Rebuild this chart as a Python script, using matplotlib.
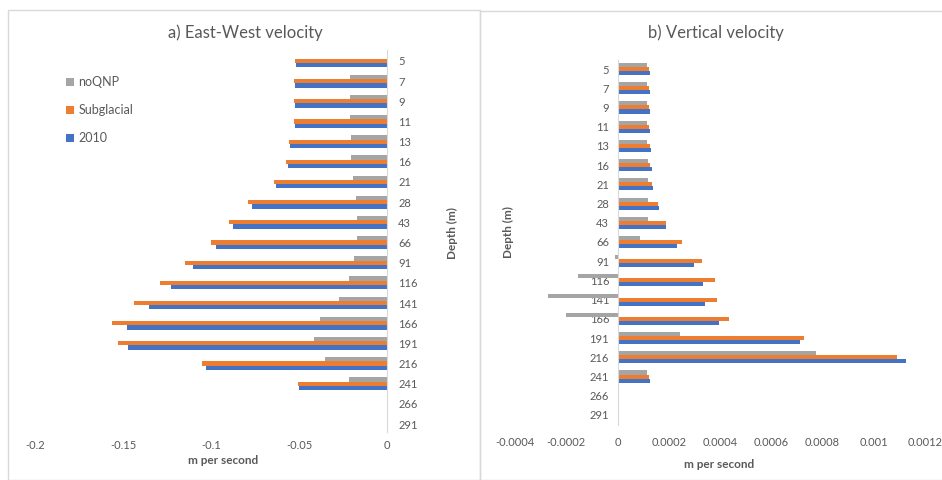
import numpy as np
import matplotlib.pyplot as plt
from matplotlib.patches import Rectangle

plt.rcParams['font.family'] = ['Lato', 'DejaVu Sans']

# depth categories (m)
depths = ['5', '7', '9', '11', '13', '16', '21', '28', '43', '66', '91',
          '116', '141', '166', '191', '216', '241', '266', '291']

# a) East-West velocity (m per second)
ew_noqnp = [0, -0.021, -0.021, -0.021, -0.0206, -0.0206, -0.0195, -0.0177, -0.0168,
            -0.0172, -0.0187, -0.0216, -0.0271, -0.0378, -0.0414, -0.0353, -0.0216, 0, 0]
ew_subglacial = [-0.0523, -0.053, -0.053, -0.053, -0.0557, -0.0573, -0.0643, -0.0792, -0.0897,
                 -0.1, -0.115, -0.129, -0.1435, -0.1565, -0.153, -0.105, -0.0504, 0, 0]
ew_2010 = [-0.0517, -0.0523, -0.0523, -0.0523, -0.055, -0.0565, -0.0632, -0.0769, -0.0874,
           -0.097, -0.11, -0.1227, -0.135, -0.148, -0.1473, -0.103, -0.0498, 0, 0]

# b) Vertical velocity (m per second)
vv_noqnp = [0.000117, 0.000117, 0.000117, 0.000117, 0.000117, 0.000119, 0.000119, 0.00012,
            0.000119, 0.000088, -0.000008, -0.000154, -0.000272, -0.000201, 0.000243,
            0.000776, 0.000117, 0, 0]
vv_subglacial = [0.000121, 0.000121, 0.000121, 0.000121, 0.000125, 0.000127, 0.000133, 0.000158,
                 0.00019, 0.00025, 0.000329, 0.000379, 0.000388, 0.000437, 0.000727,
                 0.001089, 0.000121, 0, 0]
vv_2010 = [0.000127, 0.000127, 0.000127, 0.000127, 0.000131, 0.000133, 0.000139, 0.00016,
           0.000188, 0.000233, 0.000299, 0.000335, 0.000343, 0.000398, 0.000713,
           0.001126, 0.000127, 0, 0]

c_gray, c_orange, c_blue = '#A5A5A5', '#ED7D31', '#4472C4'
txt = '#595959'
W, H = 942, 480

fig = plt.figure(figsize=(W / 100, H / 100), dpi=100)

# panel frames
fig.add_artist(Rectangle((8 / W, 0), 472 / W, 1 - 10 / H, transform=fig.transFigure,
                         fill=False, ec='#D9D9D9', lw=1))
fig.add_artist(Rectangle((480 / W, 0), 470 / W, 1 - 11 / H, transform=fig.transFigure,
                         fill=False, ec='#D9D9D9', lw=1))

y = np.arange(len(depths))
h = 0.21


def fx(px):
    return px / W


def fy(px):
    return 1 - px / H


def bars(ax, a, b, c):
    ax.barh(y - h, a, height=h, color=c_gray, label='noQNP')
    ax.barh(y, b, height=h, color=c_orange, label='Subglacial')
    ax.barh(y + h, c, height=h, color=c_blue, label='2010')


# ---- a) East-West
top, bot = 50, 432
ax1 = fig.add_axes([fx(35), fy(bot), fx(387 - 35), (bot - top) / H])
bars(ax1, ew_noqnp, ew_subglacial, ew_2010)
ax1.set_xlim(-0.2, 0)
ax1.set_ylim(18 + (bot - 424) / 20.2, -(61 - top) / 20.2)
ax1.set_xticks([-0.2, -0.15, -0.1, -0.05, 0])
ax1.set_xticklabels(['-0.2', '-0.15', '-0.1', '-0.05', '0'])
ax1.yaxis.tick_right()
ax1.set_yticks(y)
ax1.set_yticklabels(depths)
for lab in ax1.get_yticklabels():
    lab.set_horizontalalignment('left')
for s in ['top', 'left', 'bottom']:
    ax1.spines[s].set_visible(False)
ax1.spines['right'].set_color('#D9D9D9')
ax1.tick_params(axis='y', length=0, pad=8, labelsize=8, labelcolor=txt)
ax1.tick_params(axis='x', length=0, pad=6, labelsize=8, labelcolor=txt)
ax1.set_axisbelow(True)

h1, l1 = ax1.get_legend_handles_labels()
fig.legend(h1, l1, loc='upper left', bbox_to_anchor=(fx(66), fy(76)), frameon=False,
           fontsize=9, labelcolor=txt, handlelength=0.6, handleheight=0.6,
           handletextpad=0.4, labelspacing=1.3, borderpad=0, borderaxespad=0)

fig.text(fx(245), fy(33), 'a) East-West velocity', ha='center', va='center',
         fontsize=12, color=txt)
fig.text(fx(223), fy(461), 'm per second', ha='center', va='center',
         fontsize=8.5, color=txt, fontweight='bold')
fig.text(fx(452), fy(233), 'Depth (m)', ha='center', va='center', rotation=90,
         fontsize=8.5, color=txt, fontweight='bold')

# ---- b) Vertical
top2, bot2 = 60, 425
ax2 = fig.add_axes([fx(515), fy(bot2), fx(925 - 515), (bot2 - top2) / H])
bars(ax2, vv_noqnp, vv_subglacial, vv_2010)
ax2.set_xlim(-0.0004, 0.0012)
ax2.set_ylim(18 + (bot2 - 415) / 19.2, -(69 - top2) / 19.2)
xt = [-0.0004, -0.0002, 0, 0.0002, 0.0004, 0.0006, 0.0008, 0.001, 0.0012]
ax2.set_xticks(xt)
ax2.set_xticklabels(['-0.0004', '-0.0002', '0', '0.0002', '0.0004', '0.0006',
                     '0.0008', '0.001', '0.0012'])
ax2.set_yticks(y)
ax2.set_yticklabels(depths)
for s in ['top', 'right', 'bottom']:
    ax2.spines[s].set_visible(False)
ax2.spines['left'].set_position(('data', 0))
ax2.spines['left'].set_color('#D9D9D9')
ax2.tick_params(axis='y', length=0, pad=6, labelsize=8, labelcolor=txt)
ax2.tick_params(axis='x', length=0, pad=9, labelsize=8, labelcolor=txt)
ax2.set_axisbelow(True)

fig.text(fx(716), fy(33), 'b) Vertical velocity', ha='center', va='center',
         fontsize=12, color=txt)
fig.text(fx(719), fy(464), 'm per second', ha='center', va='center',
         fontsize=8.5, color=txt, fontweight='bold')
fig.text(fx(508), fy(232), 'Depth (m)', ha='center', va='center', rotation=90,
         fontsize=8.5, color=txt, fontweight='bold')

fig.savefig('out.png', dpi=100)
